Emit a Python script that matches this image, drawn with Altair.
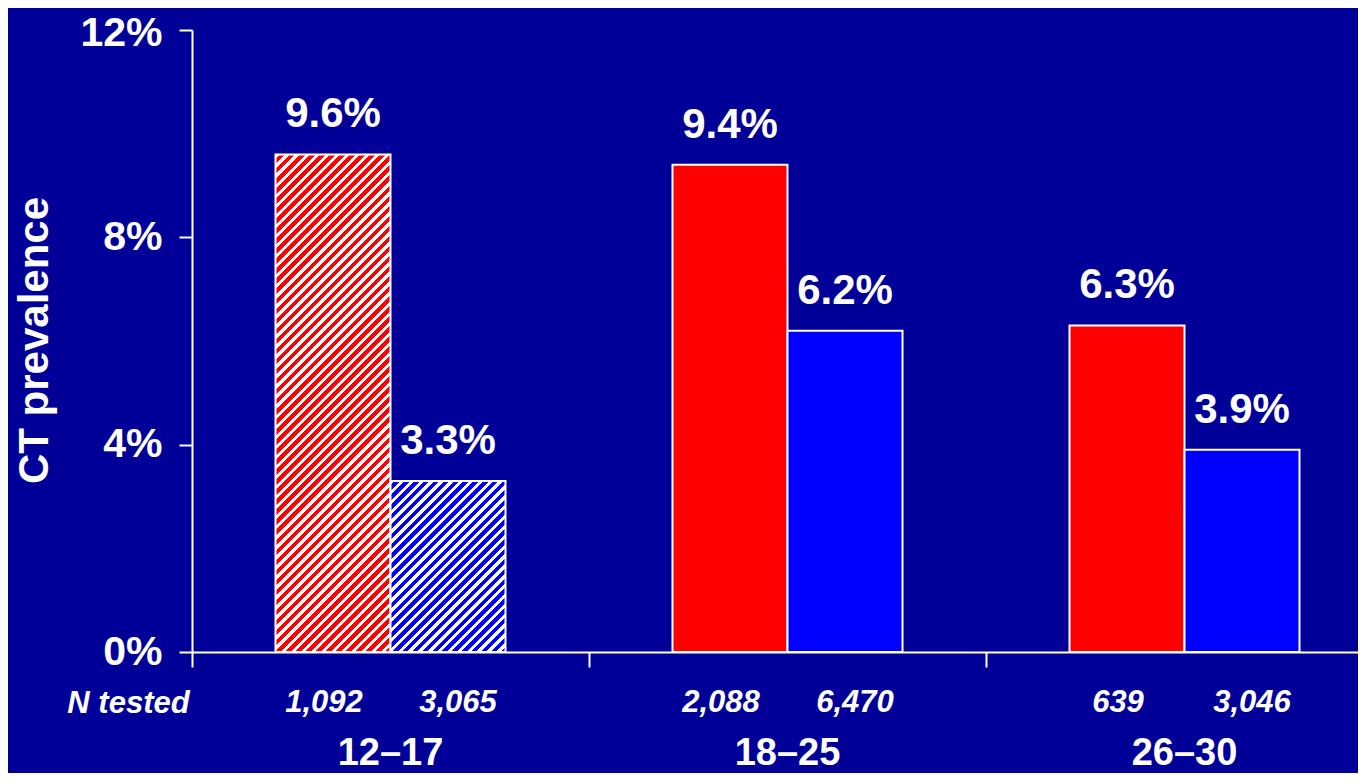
import altair as alt
import pandas as pd

# ---- data ----
groups = ["12–17", "18–25", "26–30"]
sexes = ["F", "M"]
prevalence = [9.6, 3.3, 9.4, 6.2, 6.3, 3.9]
n_tested = ["1,092", "3,065", "2,088", "6,470", "639", "3,046"]
hatched_group = "12–17"
y_ticks = [0, 4, 8, 12]

rows = []
for i, g in enumerate(groups):
    for j, s in enumerate(sexes):
        k = i * 2 + j
        rows.append({"group": g, "sex": s, "value": prevalence[k],
                     "label": f"{prevalence[k]:.1f}%", "n": n_tested[k]})
df = pd.DataFrame(rows)
gdf = pd.DataFrame({"group": groups})

# ---- styling / layout ----
W, H, XR = 1166, 622, 1191
BG = "#000099"
RED, BLUE = "#ff0000", "#0000ff"
FONT = "Liberation Sans"
OUTER = 0.726
YMAX = 12

step = XR / len(groups)
bw = step / (2 + 2 * OUTER)


def hatch(color, w, h, period=10.0, share=0.55):
    r = w / h
    s = (r + 1) / (r * r + 1)
    n = max(1, round((w + h) / period))
    stops = []
    for k in range(n):
        a, b, c = k / n, (k + 1 - share) / n, (k + 1) / n
        stops += [{"offset": a, "color": "white"}, {"offset": b, "color": "white"},
                  {"offset": b, "color": color}, {"offset": min(c, 1.0), "color": color}]
    return {"gradient": "linear", "x1": 0, "y1": 0, "x2": s * r, "y2": s, "stops": stops}


x_enc = alt.X("group:N", sort=groups,
              scale=alt.Scale(domain=groups, range=[0, XR], paddingInner=0, paddingOuter=0),
              axis=alt.Axis(bandPosition=0, labels=False, ticks=True, tickSize=15,
                            tickColor="white", tickWidth=2, domainColor="white", domainWidth=2,
                            grid=False, title="N tested", titleX=-64, titleY=51,
                            titleAlign="center", titleBaseline="middle", titleFont=FONT,
                            titleFontSize=31, titleFontStyle="italic", titleFontWeight="bold",
                            titleColor="white"))
xo_enc = alt.XOffset("sex:N", sort=sexes,
                     scale=alt.Scale(domain=sexes, paddingInner=0, paddingOuter=OUTER))
y_enc = alt.Y("value:Q",
              scale=alt.Scale(domain=[0, YMAX], nice=False, zero=True),
              axis=alt.Axis(values=y_ticks, labelExpr="datum.value + '%'", tickSize=13,
                            tickColor="white", tickWidth=2, domainColor="white", domainWidth=2,
                            grid=False, labelFont=FONT, labelFontSize=41, labelFontWeight="bold",
                            labelColor="white", labelPadding=17, labelFlush=False,
                            labelOffset={"condition": {"test": f"datum.value == {YMAX}", "value": 3},
                                         "value": 0},
                            title="CT prevalence", titleX=-145, titleY=310, titleAngle=270,
                            titleAlign="center", titleBaseline="alphabetic", titleFont=FONT,
                            titleFontSize=42, titleFontWeight="bold", titleColor="white"))

solid = alt.Chart(df).transform_filter(alt.datum.group != hatched_group).mark_bar(
    stroke="white", strokeWidth=2).encode(
    x=x_enc, xOffset=xo_enc, y=y_enc,
    fill=alt.Fill("sex:N", scale=alt.Scale(domain=sexes, range=[RED, BLUE]), legend=None))

layers = [solid]
for j, s in enumerate(sexes):
    v = prevalence[groups.index(hatched_group) * 2 + j]
    h = v / YMAX * H
    col = [RED, BLUE][j]
    layers.append(
        alt.Chart(df).transform_filter((alt.datum.group == hatched_group) & (alt.datum.sex == s))
        .mark_bar(fill=hatch(col, bw, h), stroke="white", strokeWidth=2)
        .encode(x=x_enc, xOffset=xo_enc, y=y_enc))

values_txt = alt.Chart(df).mark_text(font=FONT, fontSize=42, fontWeight="bold", color="white",
                                     baseline="alphabetic", align="center", dy=-27).encode(
    x=x_enc, xOffset=xo_enc, y=y_enc, text="label:N")

n_layers = []
for s, shift in zip(sexes, [-9, 10]):
    n_layers.append(
        alt.Chart(df).transform_filter(alt.datum.sex == s)
        .mark_text(font=FONT, fontSize=31, fontWeight="bold", fontStyle="italic",
                   color="white", baseline="middle", align="center", dx=shift)
        .encode(x=x_enc, xOffset=xo_enc, y=alt.value(H + 51), text="n:N"))

grp_txt = alt.Chart(gdf).mark_text(font=FONT, fontSize=38, fontWeight="bold", color="white",
                                   baseline="alphabetic", align="center").encode(
    x=x_enc, y=alt.value(H + 113), text="group:N")

chart = alt.layer(*layers, values_txt, *n_layers, grp_txt).properties(
    width=W, height=H,
    autosize=alt.AutoSizeParams(type="none"),
    padding={"left": 184, "top": 22, "right": 0, "bottom": 121},
    background=BG,
).configure_view(stroke=None)

chart.save("out.html", embed_options={"renderer": "svg", "actions": False})
